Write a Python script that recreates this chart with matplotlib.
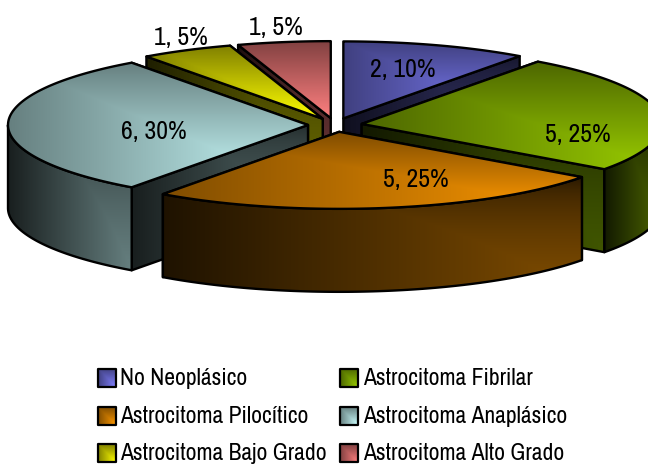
import numpy as np
import matplotlib
matplotlib.use("Agg")
import matplotlib.pyplot as plt
from matplotlib.patches import Polygon

labels = ["No Neoplásico", "Astrocitoma Fibrilar", "Astrocitoma Pilocítico",
          "Astrocitoma Anaplásico", "Astrocitoma Bajo Grado", "Astrocitoma Alto Grado"]
values = [2, 5, 5, 6, 1, 1]
percents = [10, 25, 25, 30, 5, 5]
colors = [(128, 128, 255), (153, 204, 0), (255, 153, 0),
          (204, 255, 255), (255, 255, 0), (255, 128, 128)]

# pie geometry, in pixels
cx, cy = 335, 125
rx, ry = 300, 77
depth = 83
explode = 0.09
label_pos = [(403, 70), (578, 134), (416, 179), (154, 131), (181, 37), (276, 27)]
draw_order = [0, 5, 4, 1, 3, 2]

plt.rcParams['font.family'] = ['Archivo Narrow', 'Liberation Sans', 'DejaVu Sans']

fig = plt.figure(figsize=(6.48, 4.65), dpi=100)
ax = fig.add_axes([0, 0, 1, 1])


def fill(pts, base, lo, hi, z, vpow=1.0, lw=1.7):
    pts = np.array(pts)
    x0, y0 = pts.min(axis=0)
    x1, y1 = pts.max(axis=0)
    u, v = np.meshgrid(np.linspace(0, 1, 200), np.linspace(0, 1, 200))
    t = np.minimum(u, v ** vpow)[..., None]
    rgb = np.array(base) / 255.0
    img = rgb * (lo + (hi - lo) * t)
    im = ax.imshow(img, extent=(x0, x1, y1, y0), aspect='auto', zorder=z, interpolation='bilinear')
    edge = Polygon(pts, closed=True, fc='none', ec='black', lw=lw, zorder=z + 0.5, joinstyle='round')
    ax.add_patch(edge)
    im.set_clip_path(Polygon(pts, closed=True, transform=ax.transData))


def point(ax0, ay0, deg):
    a = np.radians(deg)
    return ax0 + rx * np.sin(a), ay0 - ry * np.cos(a)


total = sum(values)
edges = np.cumsum([0] + values) * 360.0 / total

z = 2
for i in draw_order:
    a0, a1 = edges[i], edges[i + 1]
    mid = np.radians((a0 + a1) / 2)
    ox = cx + explode * rx * np.sin(mid)
    oy = cy - explode * ry * np.cos(mid)
    base = colors[i]
    arc = [point(ox, oy, d) for d in np.linspace(a0, a1, 120)]

    # radial side faces, the one further back first
    ends = sorted([arc[0], arc[-1]], key=lambda p: p[1])
    for p in ends:
        face = [(ox, oy), p, (p[0], p[1] + depth), (ox, oy + depth)]
        if abs(p[0] - ox) > 1:
            fill(face, base, 0.12, 0.42, z, vpow=0.4)
            z += 1

    # outer wall, only the front half of the ellipse shows
    w0, w1 = max(a0, 90), min(a1, 270)
    if w1 > w0:
        top = [point(ox, oy, d) for d in np.linspace(w0, w1, 120)]
        wall = top + [(x, y + depth) for x, y in reversed(top)]
        fill(wall, base, 0.12, 0.5, z, vpow=0.5)
        z += 1

    fill([(ox, oy)] + arc, base, 0.5, 1.0, z)
    z += 1

for i in range(len(values)):
    ax.text(label_pos[i][0], label_pos[i][1], "%d, %d%%" % (values[i], percents[i]),
            fontsize=18.5, ha='center', va='center', color='black', zorder=100)

# legend
col_x = [98, 340]
text_x = [120, 363]
row_y = [378, 416, 453]
box = 18
for i, name in enumerate(labels):
    c, r = i % 2, i // 2
    x, y = col_x[c], row_y[r]
    fill([(x, y - box / 2), (x + box, y - box / 2), (x + box, y + box / 2), (x, y + box / 2)],
         colors[i], 0.5, 1.0, 100, lw=1.6)
    ax.text(text_x[c], y, name, fontsize=17, ha='left', va='center', color='black', zorder=100)

ax.set_xlim(0, 648)
ax.set_ylim(465, 0)
ax.axis('off')
fig.savefig('out.png', dpi=100)
